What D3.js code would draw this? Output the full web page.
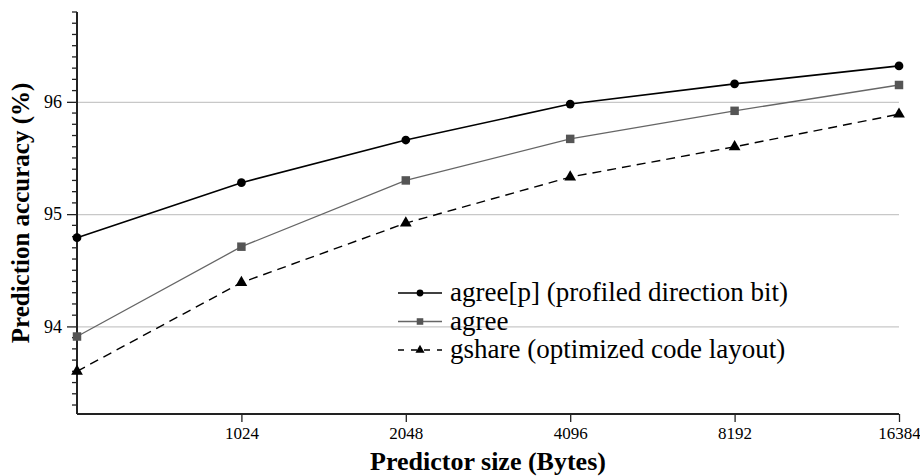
<!DOCTYPE html>
<html>
<head>
<meta charset="utf-8">
<script src="https://cdn.jsdelivr.net/npm/d3@7"></script>
</head>
<body style="margin:0">
<svg id="chart" width="920" height="476" style="font-family:'Liberation Serif',Tinos,serif"></svg>
<script>
// predictor sizes in bytes (first one has no label on the axis)
var sizes = [512,1024,2048,4096,8192,16384];
var sizeLabels = ["","1024","2048","4096","8192","16384"];

// accuracy in percent
var agreeP = [94.79,95.28,95.66,95.98,96.16,96.32];
var agree  = [93.91,94.71,95.30,95.67,95.92,96.15];
var gshare = [93.60,94.39,94.92,95.33,95.60,95.89];

var seriesNames = ["agree[p] (profiled direction bit)","agree","gshare (optimized code layout)"];

var yMajor = [94,95,96];

var fontName = "'Liberation Serif', Tinos, serif";

var screen = {width:920, height:476};
var margins = {top:12,bottom:62,left:77,right:21};
var graph =
{
    width:screen.width-margins.left-margins.right,
    height:screen.height-margins.top-margins.bottom
}

var svg = d3.select("#chart");

var xScale = d3.scaleLog()
    .base(2)
    .domain([sizes[0],sizes[sizes.length-1]])
    .range([margins.left,margins.left+graph.width]);

var yScale = d3.scaleLinear()
    .domain([93.22,96.8])
    .range([margins.top+graph.height,margins.top]);

// minor ticks every 0.1
var yMinor = d3.range(933,969).map(function(d){return d/10;})
    .filter(function(d){return yMajor.indexOf(d)<0;});

// grid
svg.append("g")
    .selectAll("line")
    .data(yMajor)
    .enter()
    .append("line")
    .attr("x1",margins.left)
    .attr("x2",margins.left+graph.width)
    .attr("y1",function(d){return yScale(d)+0.5;})
    .attr("y2",function(d){return yScale(d)+0.5;})
    .attr("stroke","#c8c8c8")
    .attr("stroke-width",1.2);

// y axis
var yAxis = svg.append("g")
    .attr("transform","translate("+margins.left+",0)")
    .call(d3.axisLeft(yScale).tickValues(yMajor).tickSize(10).tickPadding(5)
          .tickFormat(d3.format("d")));
yAxis.attr("font-family",null).attr("font-size",null);
yAxis.select(".domain").remove();
yAxis.selectAll("text")
    .style("font-size","18px");
yAxis.selectAll("line").attr("stroke","#222").attr("stroke-width",1.3);

svg.append("g")
    .selectAll("line")
    .data(yMinor)
    .enter()
    .append("line")
    .attr("x1",margins.left-5)
    .attr("x2",margins.left)
    .attr("y1",function(d){return yScale(d);})
    .attr("y2",function(d){return yScale(d);})
    .attr("stroke","#222")
    .attr("stroke-width",1.3);

// x axis
var xAxis = svg.append("g")
    .attr("transform","translate(0,"+(margins.top+graph.height)+")")
    .call(d3.axisBottom(xScale).tickValues(sizes.slice(1)).tickSize(8).tickPadding(5)
          .tickFormat(function(d){return sizeLabels[sizes.indexOf(d)];}));
xAxis.attr("font-family",null).attr("font-size",null);
xAxis.select(".domain").remove();
xAxis.selectAll("text")
    .style("font-size","17px");
xAxis.selectAll("line").attr("stroke","#222").attr("stroke-width",1.3);

// axis lines
svg.append("line")
    .attr("x1",margins.left).attr("x2",margins.left)
    .attr("y1",margins.top).attr("y2",margins.top+graph.height)
    .attr("stroke","#222").attr("stroke-width",2);
svg.append("line")
    .attr("x1",margins.left).attr("x2",margins.left+graph.width)
    .attr("y1",margins.top+graph.height).attr("y2",margins.top+graph.height)
    .attr("stroke","#222").attr("stroke-width",2);

// series
var styles = [
    {values:agreeP, color:"#000", width:1.6, dash:null, symbol:d3.symbolCircle, size:60, fill:"#000"},
    {values:agree,  color:"#666", width:1.3, dash:null, symbol:d3.symbolSquare, size:72, fill:"#555"},
    {values:gshare, color:"#000", width:1.4, dash:"9,6", symbol:d3.symbolTriangle, size:60, fill:"#000"}
];

var line = d3.line()
    .x(function(d,i){return xScale(sizes[i]);})
    .y(function(d){return yScale(d);});

styles.forEach(function(s)
{
    svg.append("path")
        .attr("d",line(s.values))
        .attr("fill","none")
        .attr("stroke",s.color)
        .attr("stroke-width",s.width)
        .attr("stroke-dasharray",s.dash);

    svg.append("g")
        .selectAll("path")
        .data(s.values)
        .enter()
        .append("path")
        .attr("d",d3.symbol().type(s.symbol).size(s.size))
        .attr("transform",function(d,i)
        {
            return "translate("+xScale(sizes[i])+","+yScale(d)+")";
        })
        .attr("fill",s.fill);
});

// legend
var legend = svg.append("g")
    .attr("transform","translate(398,293)");

var rows = legend.selectAll("g")
    .data(styles)
    .enter()
    .append("g")
    .attr("transform",function(d,i){return "translate(0,"+(i*28.5)+")";});

rows.append("line")
    .attr("x1",0).attr("x2",44)
    .attr("stroke",function(d){return d.color;})
    .attr("stroke-width",function(d){return d.width;})
    .attr("stroke-dasharray",function(d){return d.dash ? "6,7" : null;});

rows.append("path")
    .attr("d",function(d){return d3.symbol().type(d.symbol).size(d.size*0.6)();})
    .attr("transform","translate(22,0)")
    .attr("fill",function(d){return d.fill;});

rows.append("text")
    .attr("x",52)
    .attr("y",8)
    .style("font-size","27px")
    .text(function(d,i){return seriesNames[i];});

// axis titles
svg.append("text")
    .attr("x",margins.left+graph.width/2)
    .attr("y",470)
    .attr("text-anchor","middle")
    .style("font-size","26px")
    .style("font-weight","bold")
    .text("Predictor size (Bytes)");

svg.append("text")
    .attr("transform","translate(29,"+(margins.top+graph.height/2)+") rotate(-90)")
    .attr("text-anchor","middle")
    .style("font-size","25px")
    .style("font-weight","bold")
    .text("Prediction accuracy (%)");

svg.selectAll("text").style("font-family",fontName);
</script>
</body>
</html>
